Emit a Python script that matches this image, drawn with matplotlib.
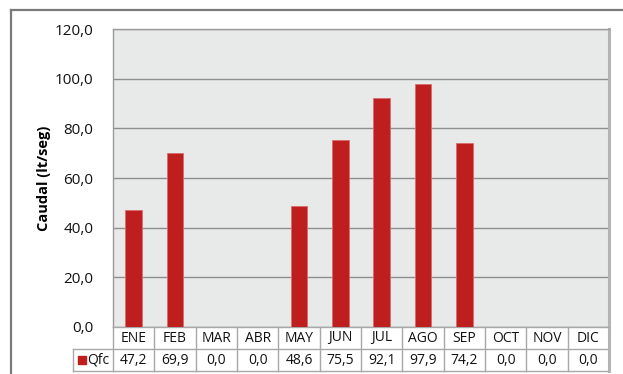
import matplotlib.pyplot as plt
from matplotlib.lines import Line2D
from matplotlib.transforms import blended_transform_factory

plt.rcParams['font.family'] = ['Open Sans', 'DejaVu Sans']

meses = ['ENE', 'FEB', 'MAR', 'ABR', 'MAY', 'JUN', 'JUL', 'AGO', 'SEP', 'OCT', 'NOV', 'DIC']
qfc = [47.2, 69.9, 0.0, 0.0, 48.6, 75.5, 92.1, 97.9, 74.2, 0.0, 0.0, 0.0]
serie = 'Qfc'
yticks = [0, 20, 40, 60, 80, 100, 120]

rojo = '#be1e1e'
borde = '#a8a8a8'

W, H = 623, 374
fig = plt.figure(figsize=(W / 100, H / 100), dpi=100)
ax = fig.add_axes([113 / W, 1 - 327 / H, (609 - 113) / W, (327 - 29) / H])

# marco exterior (solo arriba e izquierda)
fig.add_artist(Line2D([11 / W, 1], [1 - 10 / H, 1 - 10 / H], color='#7a7a7a', lw=1.6))
fig.add_artist(Line2D([11 / W, 11 / W], [1 - 10 / H, 0], color='#7a7a7a', lw=1.6))

x = list(range(len(meses)))
ax.set_facecolor('#e8e9e9')
ax.bar(x, qfc, width=0.4, color=rojo, edgecolor='#d86c6c', linewidth=0.6, zorder=3)

ax.set_xlim(-0.5, len(meses) - 0.5)
ax.set_ylim(0, 120)
ax.set_yticks(yticks)
ax.set_yticklabels([f'{v:.1f}'.replace('.', ',') for v in yticks], fontsize=11, color='#111111')
ax.set_xticks([])
ax.tick_params(axis='y', length=0, pad=14)
ax.grid(axis='y', color='#8e8e8e', lw=1, zorder=1)

for s in ['top', 'left']:
    ax.spines[s].set_color('#9a9a9a')
    ax.spines[s].set_linewidth(1)
ax.spines['right'].set_color('#b4b4b4')
ax.spines['right'].set_linewidth(2.2)
ax.spines['bottom'].set_color(borde)
ax.spines['bottom'].set_linewidth(1)

fig.text(44 / W, 1 - 178 / H, 'Caudal (lt/seg)', rotation=90, ha='center', va='center',
         fontsize=10.5, fontweight='bold')

# tabla de datos debajo del eje
tr = blended_transform_factory(ax.transData, ax.transAxes)
fila = 22 / 298
y1, y2 = -fila, -2 * fila
col = 496 / 12
izq = -0.5 - 40 / col
fin = len(meses) - 0.5
kw = dict(color=borde, lw=1, transform=tr, clip_on=False)
ax.add_line(Line2D([izq, fin], [y1, y1], **kw))
ax.add_line(Line2D([izq, fin], [y2, y2], **kw))
ax.add_line(Line2D([izq, izq], [y1, y2], **kw))
for i in range(len(meses) + 1):
    ax.add_line(Line2D([i - 0.5, i - 0.5], [0, y2], **kw))
ax.add_line(Line2D([fin, fin], [0, y2], color='#b4b4b4', lw=2.2, transform=tr, clip_on=False))

for i, (m, v) in enumerate(zip(meses, qfc)):
    ax.text(i, -fila / 2, m, transform=tr, ha='center', va='center', fontsize=10, color='#111111')
    ax.text(i, -1.5 * fila, f'{v:.1f}'.replace('.', ','), transform=tr, ha='center', va='center',
            fontsize=10, color='#111111')

ax.plot([izq + 9 / col], [-1.5 * fila], marker='s', ms=5.5, color=rojo, transform=tr, clip_on=False)
ax.text(izq + 14 / col, -1.5 * fila, serie, transform=tr, ha='left', va='center', fontsize=10, color='#111111')

fig.savefig('out.png', dpi=100)
